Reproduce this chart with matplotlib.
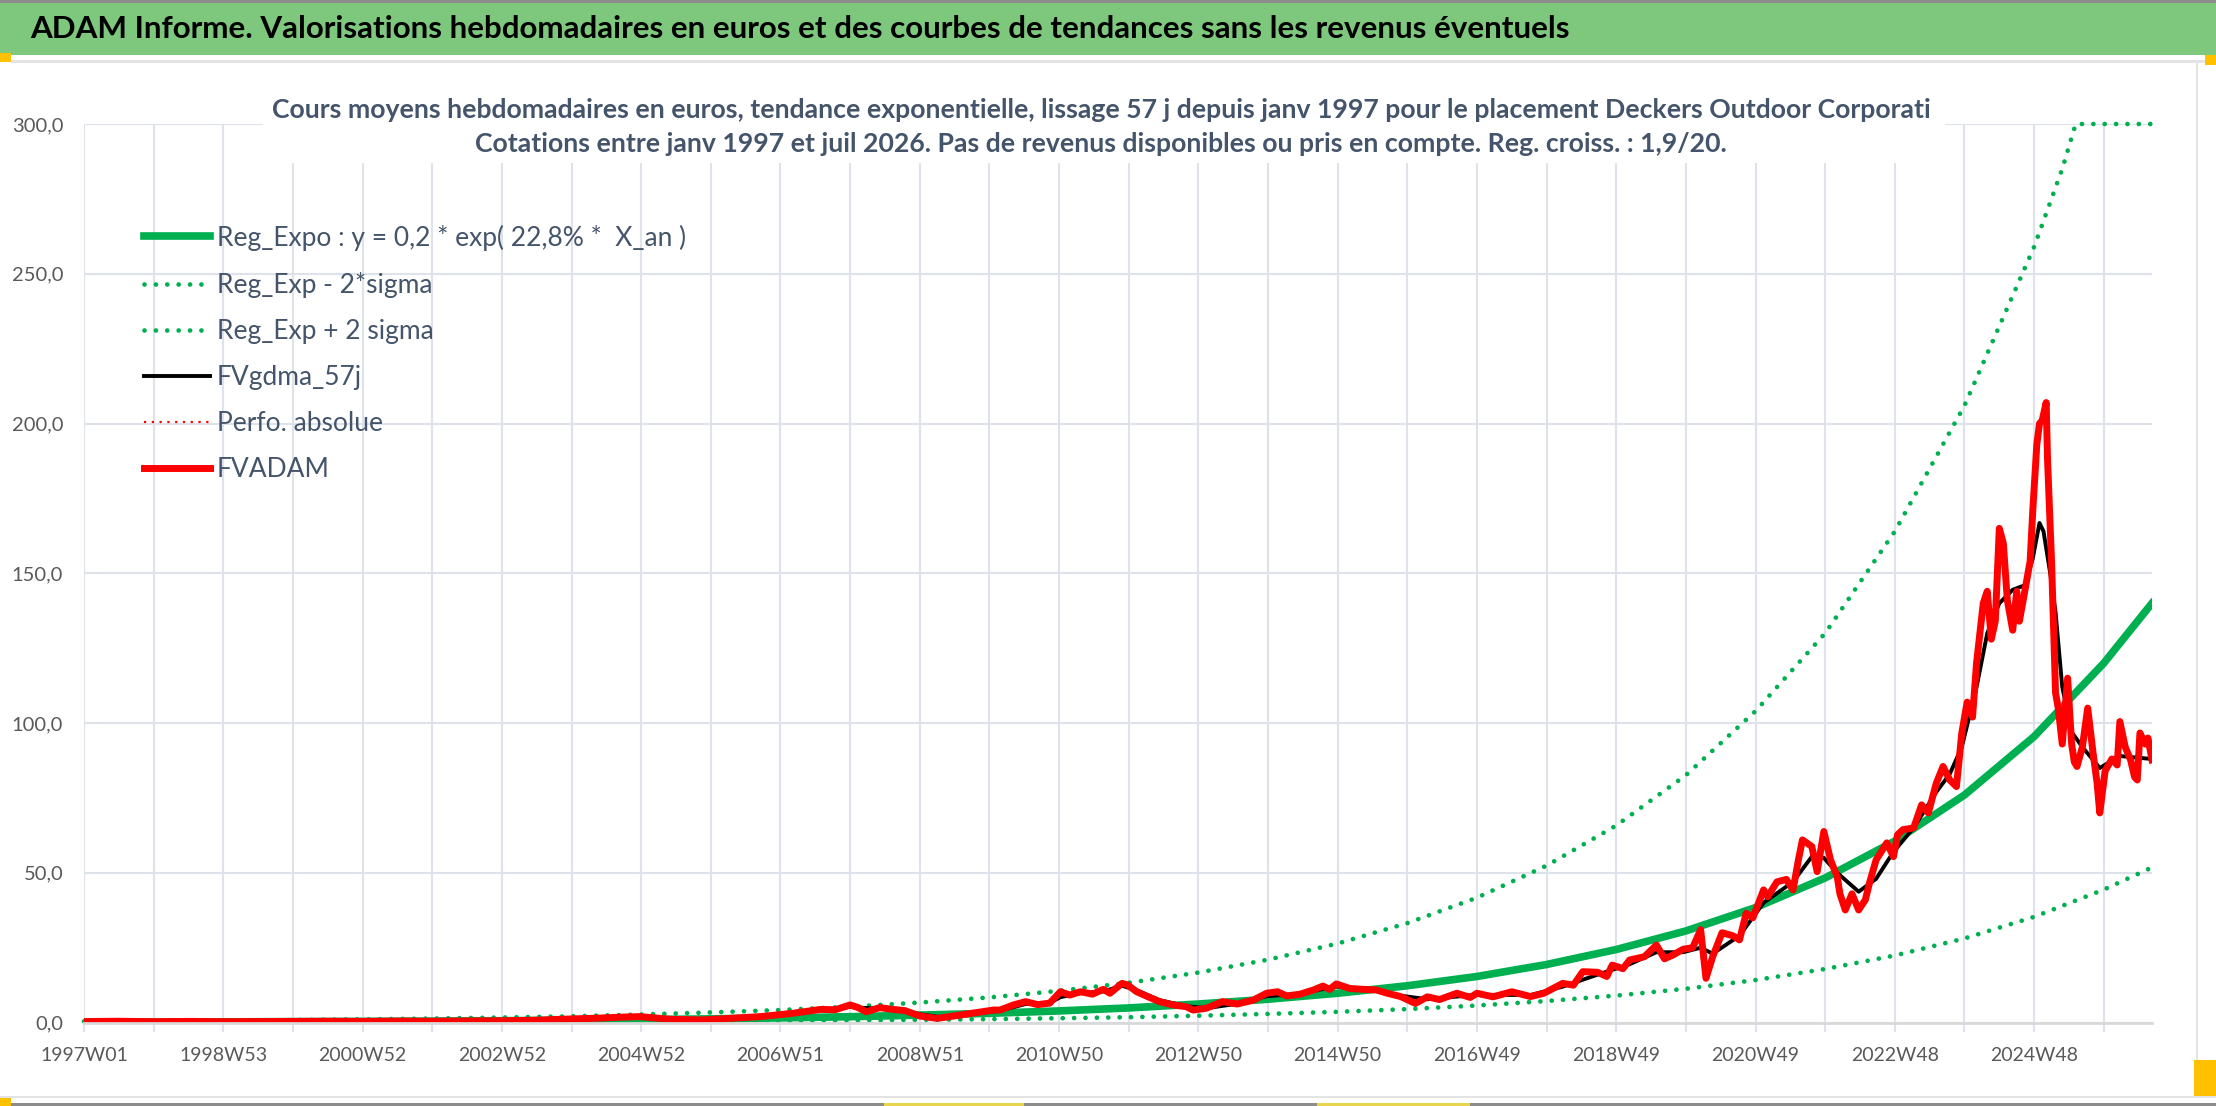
import matplotlib

matplotlib.use("Agg")
import matplotlib.pyplot as plt
from matplotlib.patches import Rectangle
from matplotlib.ticker import FuncFormatter, MultipleLocator


# Dimensions de l'image finale (pixels).
LARGEUR, HAUTEUR, DPI = 2216, 1106, 100
FAMILLE = ["Lato", "DejaVu Sans"]

TITRE = ("ADAM Informe. Valorisations hebdomadaires en euros et des courbes "
         "de tendances sans les revenus éventuels")
SOUS_TITRE = (
    "Cours moyens hebdomadaires en euros, tendance exponentielle, lissage 57 j "
    "depuis janv 1997 pour le placement Deckers Outdoor Corporati\n"
    "Cotations entre janv 1997 et juil 2026. Pas de revenus disponibles ou pris "
    "en compte. Reg. croiss. : 1,9/20."
)

# Axe des categories : une semaine par point, etiquette toutes les 104 semaines.
NB_SEMAINES = 1545
ETIQUETTES_SEMAINES = [
    "1997W01", "1998W53", "2000W52", "2002W52", "2004W52", "2006W51",
    "2008W51", "2010W50", "2012W50", "2014W50", "2016W49", "2018W49",
    "2020W49", "2022W48", "2024W48",
]

# Courbes de tendance lues chaque annee (toutes les 52 semaines) + fin.
REG_IDX = [52 * k for k in range(30)] + [1544]
REG_EXPO = [0.16, 0.2, 0.25, 0.32, 0.4, 0.5, 0.63, 0.79, 0.99, 1.25, 1.57,
            1.97, 2.5, 3.1, 3.9, 4.9, 6.2, 7.8, 9.8, 12.3, 15.4, 19.4, 24.4,
            30.6, 38.4, 48.3, 60.6, 76.0, 95.5, 120.0, 140.0]
REG_MOINS = [0.06, 0.07, 0.09, 0.12, 0.15, 0.19, 0.23, 0.29, 0.37, 0.46,
             0.58, 0.73, 0.92, 1.15, 1.45, 1.8, 2.3, 2.9, 3.6, 4.5, 5.7, 7.2,
             9.0, 11.3, 14.2, 17.9, 22.4, 28.1, 35.3, 44.4, 51.8]
REG_PLUS_IDX = [52 * k for k in range(29)] + [1477, 1487, 1544]
REG_PLUS = [0.43, 0.54, 0.68, 0.86, 1.08, 1.35, 1.7, 2.1, 2.7, 3.4, 4.2, 5.3,
            6.7, 8.4, 10.6, 13.3, 16.7, 21.0, 26.4, 33.2, 41.7, 52.4, 65.8,
            82.6, 104.0, 130.0, 164.0, 206.0, 259.0, 285.0, 300.0, 300.0]

# Cours hebdomadaire (FVADAM).
FVADAM_IDX = [
    0, 26, 52, 78, 104, 130, 156, 182, 208, 234, 260, 286, 312, 338, 355,
    370, 385, 400, 415, 425, 438, 450, 462, 482, 495, 505, 529, 550, 561,
    572, 578, 584, 594, 604, 613, 624, 637, 654, 679, 684, 694, 703, 712,
    721, 729, 736, 744, 753, 761, 766, 775, 779, 786, 794, 803, 813, 823,
    828, 838, 850, 861, 873, 883, 891, 898, 908, 918, 925, 930, 935, 945,
    955, 965, 973, 983, 994, 1003, 1012, 1025, 1035, 1040, 1052, 1066, 1080,
    1090, 1104, 1112, 1119, 1130, 1137, 1141, 1149, 1154, 1165, 1174, 1180,
    1186, 1194, 1201, 1207, 1211, 1216, 1223, 1231, 1236, 1241, 1246, 1254,
    1257, 1264, 1271, 1276, 1280, 1283, 1290, 1294, 1299, 1304, 1309, 1311,
    1315, 1320, 1325, 1330, 1333, 1338, 1346, 1351, 1354, 1358, 1366, 1372,
    1377, 1383, 1388, 1393, 1398, 1402, 1406, 1410, 1413, 1418, 1421, 1424,
    1427, 1430, 1433, 1436, 1440, 1443, 1445, 1449, 1453, 1455, 1458, 1460,
    1462, 1465, 1466, 1469, 1472, 1474, 1477, 1481, 1484, 1486, 1488, 1492,
    1496, 1500, 1503, 1505, 1509, 1514, 1518, 1520, 1524, 1528, 1531, 1533,
    1535, 1539, 1541, 1544,
]
FVADAM = [
    0.35, 0.45, 0.3, 0.4, 0.3, 0.35, 0.4, 0.45, 0.4, 0.5, 0.45, 0.55, 0.6,
    0.8, 1.1, 1.3, 1.5, 1.8, 2.0, 1.6, 1.1, 1.0, 0.9, 1.4, 1.7, 2.0, 3.1,
    4.4, 4.3, 5.9, 5.0, 3.6, 5.0, 4.4, 4.0, 2.2, 1.4, 2.5, 4.2, 4.2, 5.9,
    7.0, 6.0, 6.5, 10.3, 9.2, 10.3, 9.5, 11.1, 9.8, 13.1, 12.6, 10.3, 8.7,
    7.0, 5.9, 5.3, 4.2, 4.8, 7.0, 6.2, 7.5, 9.8, 10.3, 8.9, 9.5, 10.9, 12.2,
    11.1, 12.9, 11.4, 11.1, 10.9, 9.8, 8.7, 6.4, 8.6, 7.7, 9.8, 8.4, 9.8,
    8.6, 10.3, 8.7, 9.8, 13.1, 12.5, 17.0, 16.8, 15.4, 19.2, 18.0, 20.9,
    22.0, 25.9, 21.3, 22.5, 24.5, 25.0, 31.0, 14.8, 22.0, 30.0, 29.0, 27.6,
    36.5, 35.0, 44.3, 42.0, 47.0, 47.8, 44.3, 54.3, 61.0, 58.8, 50.4, 63.8,
    54.3, 48.7, 43.0, 37.6, 43.0, 37.6, 41.0, 46.5, 54.3, 60.0, 55.4, 62.7,
    64.4, 65.0, 72.7, 70.0, 80.0, 85.5, 81.0, 78.8, 96.7, 107.0, 102.0,
    120.0, 140.0, 144.0, 128.0, 134.0, 165.0, 160.0, 141.0, 131.0, 144.0,
    134.0, 144.0, 154.0, 171.0, 193.0, 200.0, 201.0, 207.0, 188.0, 154.0,
    110.0, 105.0, 93.0, 115.0, 93.0, 87.0, 85.5, 92.0, 105.0, 90.0, 80.0,
    70.0, 84.0, 88.0, 86.0, 100.5, 92.0, 87.7, 82.0, 81.0, 96.7, 93.0, 95.0,
    87.7,
]

# Moyenne lissee 57 jours (FVgdma_57j).
FVGDMA_IDX = [
    0, 104, 208, 312, 380, 415, 450, 482, 505, 529, 550, 572, 594, 613, 624,
    640, 654, 684, 703, 721, 729, 744, 761, 775, 786, 803, 823, 838, 861,
    883, 908, 925, 935, 955, 983, 1003, 1040, 1080, 1104, 1130, 1154, 1174,
    1194, 1207, 1216, 1236, 1254, 1276, 1290, 1299, 1309, 1325, 1338, 1351,
    1366, 1383, 1393, 1402, 1413, 1421, 1430, 1440, 1449, 1455, 1460, 1463,
    1468, 1472, 1477, 1484, 1492, 1505, 1520, 1544,
]
FVGDMA = [
    0.4, 0.35, 0.45, 0.6, 1.3, 1.7, 1.1, 1.3, 1.9, 3.0, 4.2, 5.2, 4.6, 4.0,
    2.8, 1.8, 2.4, 4.0, 6.2, 6.6, 8.5, 9.8, 10.4, 12.3, 10.8, 7.5, 5.5, 4.8,
    6.3, 8.8, 9.6, 11.2, 12.0, 11.3, 9.0, 7.8, 9.3, 9.2, 12.0, 16.0, 19.5,
    23.5, 23.5, 25.0, 23.0, 29.0, 40.0, 47.0, 55.4, 55.0, 50.0, 43.7, 48.0,
    57.0, 65.0, 77.0, 83.0, 92.0, 112.0, 130.0, 140.0, 144.5, 146.0, 155.0,
    166.8, 164.0, 150.0, 137.0, 112.0, 97.0, 92.0, 85.0, 89.0, 88.0,
]

VERT = "#00B050"
ROUGE = "#FF0000"
GRILLE = "#DEE2EA"
TEXTE = "#44546A"
GRIS_AXE = "#595959"


def px_fig(x, y, w=0, h=0):
    """Convertit un rectangle en pixels (origine en haut) en coordonnees figure."""
    return x / LARGEUR, 1 - (y + h) / HAUTEUR, w / LARGEUR, h / HAUTEUR


def decor(fig):
    """Bandeau vert, filets gris et petites marques jaunes du cadre."""
    blocs = [
        (0, 0, LARGEUR, 3, "#8C8C8C"),
        (0, 3, LARGEUR, 52, "#7EC87E"),
        (0, 53, 11, 9, "#FFC000"),
        (11, 60, LARGEUR, 3, "#E3E3E3"),
        (2205, 55, 11, 10, "#FFC000"),
        (2196, 63, 2, 1035, "#E3E3E3"),
        (2194, 1060, 22, 38, "#FFC000"),
        (0, 1096, LARGEUR, 2, "#E3E3E3"),
        (0, 1103, LARGEUR, 3, "#8C8C8C"),
        (0, 1098, 11, 8, "#FFC000"),
        (884, 1103, 140, 3, "#E8D44D"),
        (1317, 1103, 153, 3, "#E8D44D"),
    ]
    for x, y, w, h, couleur in blocs:
        x0, y0, w0, h0 = px_fig(x, y, w, h)
        fig.add_artist(Rectangle((x0, y0), w0, h0, transform=fig.transFigure,
                                 facecolor=couleur, edgecolor="none", zorder=0.5))


def gerar_grafico():
    fig = plt.figure(figsize=(LARGEUR / DPI, HAUTEUR / DPI), dpi=DPI)
    fig.patch.set_facecolor("white")
    decor(fig)

    ax = fig.add_axes([84 / LARGEUR, 83.4 / HAUTEUR,
                       2068 / LARGEUR, 898.6 / HAUTEUR])
    ax.set_facecolor("none")

    pointille = (0, (0.01, 2.4))
    ax.plot(REG_IDX, REG_EXPO, color=VERT, linewidth=5.5,
            label="Reg_Expo : y = 0,2 * exp( 22,8% *  X_an )")
    ax.plot(REG_IDX, REG_MOINS, color=VERT, linewidth=3.4, linestyle=pointille,
            dash_capstyle="round", label="Reg_Exp - 2*sigma")
    ax.plot(REG_PLUS_IDX, REG_PLUS, color=VERT, linewidth=3.4,
            linestyle=pointille, dash_capstyle="round", clip_on=False,
            label="Reg_Exp + 2 sigma")
    ax.plot(FVGDMA_IDX, FVGDMA, color="black", linewidth=2.8, label="FVgdma_57j")
    ax.plot([], [], color=ROUGE, linewidth=1.6, linestyle=(0, (1, 2.5)),
            label="Perfo. absolue")
    ax.plot(FVADAM_IDX, FVADAM, color=ROUGE, linewidth=5.0, label="FVADAM")

    ax.set_xlim(0, NB_SEMAINES - 1)
    ax.set_ylim(0, 300)

    # Grille : une ligne par an, etiquette tous les deux ans.
    ax.xaxis.set_major_locator(MultipleLocator(52))
    ax.xaxis.set_major_formatter(FuncFormatter(
        lambda v, _: ETIQUETTES_SEMAINES[int(round(v)) // 104]
        if int(round(v)) % 104 == 0 and int(round(v)) // 104 < len(ETIQUETTES_SEMAINES)
        else ""))
    ax.yaxis.set_major_locator(MultipleLocator(50))
    ax.yaxis.set_major_formatter(FuncFormatter(
        lambda v, _: f"{v:.1f}".replace(".", ",")))
    ax.grid(True, color=GRILLE, linewidth=1.5)
    ax.set_axisbelow(True)

    for nom in ("top", "right", "left"):
        ax.spines[nom].set_visible(False)
    ax.spines["bottom"].set_color("#D9D9D9")
    ax.spines["bottom"].set_linewidth(2)

    ax.tick_params(axis="x", length=6.5, width=1.5, color=GRILLE, pad=11,
                   labelsize=14, labelcolor=GRIS_AXE)
    ax.tick_params(axis="y", length=0, pad=15, labelsize=14.5,
                   labelcolor=GRIS_AXE)
    for lab in ax.get_xticklabels() + ax.get_yticklabels():
        lab.set_family(FAMILLE)

    leg = ax.legend(loc="upper left", bbox_to_anchor=(144 / LARGEUR, 0.797),
                    bbox_transform=fig.transFigure, frameon=False,
                    prop={"family": FAMILLE, "size": 19}, labelcolor=TEXTE,
                    handlelength=2.5, handletextpad=0.25, labelspacing=0.8,
                    borderpad=0, borderaxespad=0)
    leg.set_zorder(5)

    # Cadre blanc du sous-titre qui masque la grille.
    x0, y0, w0, h0 = px_fig(263, 84, 1682, 79)
    fig.add_artist(Rectangle((x0, y0), w0, h0, transform=fig.transFigure,
                             facecolor="white", edgecolor="none", zorder=2))
    fig.text(1101 / LARGEUR, 1 - 127 / HAUTEUR, SOUS_TITRE, ha="center",
             va="center", multialignment="center", fontsize=19.2,
             fontweight="bold", color=TEXTE, linespacing=1.52, family=FAMILLE,
             zorder=3)

    fig.text(30 / LARGEUR, 1 - 29 / HAUTEUR, TITRE, ha="left", va="center",
             fontsize=22.6, fontweight="bold", color="black", family=FAMILLE,
             zorder=3)

    fig.savefig("out.png", dpi=DPI)
    plt.close(fig)


if __name__ == "__main__":
    gerar_grafico()
